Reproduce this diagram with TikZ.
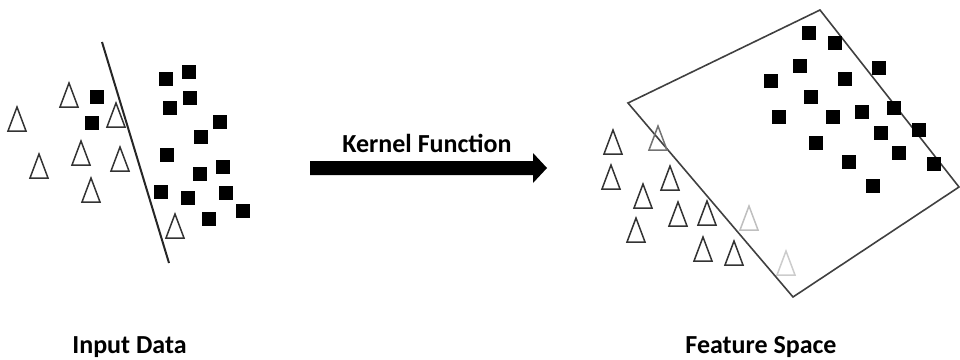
\documentclass[tikz,border=0pt]{standalone}
\usepackage{fontspec}
\setmainfont{Carlito}
\begin{document}
\begin{tikzpicture}[x=1pt,y=-1pt,
  sq/.pic={\fill[black] (-7,-7) rectangle (7,7);},
  tri/.pic={\draw[line width=1.5pt,line join=miter] (-9,12) -- (0,-12) -- (9,12) -- cycle;},
  label/.style={font=\bfseries\fontsize{26}{30}\selectfont, anchor=base, inner sep=0pt},
  divider/.style={line width=2pt, black!85},
  plane/.style={line width=1.6pt, black!75}]
\useasboundingbox (0,0) rectangle (960,359);

% ---- input space ----
\coordinate (sepTop) at (102,42);
\coordinate (sepBot) at (169,263);
\draw[divider] (sepTop) -- (sepBot);

\foreach \x/\y in {17/119, 69/95, 116/115, 81/153, 39/166, 120/159, 91/190, 175/226}
  \pic[black!80] at (\x,\y) {tri};

\foreach \x/\y in {97/97, 92/123, 166/79, 189/72, 190/98, 170/108, 220/122, 201/137,
                   167/155, 223/167, 200/174, 161/192, 188/198, 226/193, 243/211, 209/219}
  \pic at (\x,\y) {sq};

% ---- kernel mapping ----
\node[label] (kf) at (427,152) {Kernel Function};
\coordinate (arrStart) at (310,168);
\coordinate (arrTip) at (547,168);
\fill[black] (arrStart) ++(0,-7) -- (533,161) -- (533,153) -- (arrTip) -- (533,183)
  -- (533,175) -- (310,175) -- cycle;

% ---- feature space ----
\coordinate (pA) at (628,103);
\coordinate (pB) at (820,10);
\coordinate (pC) at (959,187);
\coordinate (pD) at (793,297);
\draw[plane] (pA) -- (pB) -- (pC) -- (pD) -- cycle;

\foreach \x/\y/\c in {613/142/80, 658/138/55, 611/177/80, 670/178/80, 643/196/80,
                      678/214/80, 707/213/80, 749/218/25, 636/230/80, 703/249/80,
                      734/253/80, 786/263/20}
  \pic[black!\c] at (\x,\y) {tri};

\foreach \x/\y in {809/33, 835/43, 800/66, 879/68, 771/81, 845/79, 811/97, 779/117,
                   833/117, 862/112, 894/108, 881/133, 919/130, 816/143, 899/153,
                   849/162, 934/164, 873/186}
  \pic at (\x,\y) {sq};

% ---- captions ----
\node[label] (inLbl) at (129.5,353) {Input Data};
\node[label] (fsLbl) at (761,353) {Feature Space};
\end{tikzpicture}
\end{document}
